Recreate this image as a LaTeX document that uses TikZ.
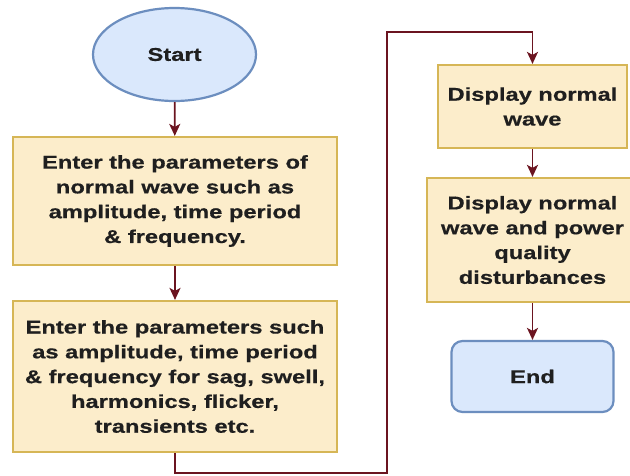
\documentclass[tikz,border=0pt]{standalone}
\usepackage{fontspec}
\setmainfont{Liberation Sans}[FakeStretch=1.28, BoldFeatures={FakeBold=0.6}]
\usetikzlibrary{shapes.geometric,arrows.meta}
\definecolor{boxfill}{HTML}{FCEDCB}
\definecolor{boxline}{HTML}{D6B656}
\definecolor{bluefill}{HTML}{DAE8FC}
\definecolor{blueline}{HTML}{6C8EBF}
\definecolor{arrcol}{HTML}{6B1420}
\begin{document}
\begin{tikzpicture}[x=1pt,y=-1pt,
  every node/.style={font=\fontsize{18.5}{24.8}\selectfont\bfseries, text=black!88, align=center, inner sep=0pt},
  procbox/.style={draw=boxline, fill=boxfill, line width=2.2pt, rectangle},
  termell/.style={draw=blueline, fill=bluefill, line width=2.2pt, ellipse},
  termbox/.style={draw=blueline, fill=bluefill, line width=2.2pt, rectangle, rounded corners=11pt},
  arr/.style={draw=arrcol, line width=1.8pt, -{Stealth[length=12pt,width=11pt,inset=3pt]}}]
\useasboundingbox (0,0) rectangle (630,475);
\clip (0,0) rectangle (630,475);
\fill[white] (0,0) rectangle (630,475);
\node[termell, minimum width=163pt, minimum height=93pt] (start) at (174.5,54.5) {Start};
\node[procbox, minimum width=324pt, minimum height=128pt] (b1) at (175,201)
  {Enter the parameters of\\normal wave such as\\amplitude, time period\\\& frequency.};
\node[procbox, minimum width=324pt, minimum height=151pt] (b2) at (175,376.5)
  {Enter the parameters such\\as amplitude, time period\\\& frequency for sag, swell,\\harmonics, flicker,\\transients etc.};
\node[procbox, minimum width=189pt, minimum height=83pt] (b3) at (532.5,106.5)
  {Display normal\\wave};
\node[procbox, minimum width=211pt, minimum height=124pt] (b4) at (532.5,240)
  {Display normal\\wave and power\\quality\\disturbances};
\node[termbox, minimum width=162pt, minimum height=71pt] (end) at (532.5,376.5) {End};
\coordinate (c1) at (175,473);
\coordinate (c2) at (387,473);
\coordinate (c3) at (387,32);
\coordinate (c4) at (532.5,32);
\draw[arr] (start) -- (b1);
\draw[arr] (b1) -- (b2);
\draw[arr] (b2) -- (c1) -- (c2) -- (c3) -- (c4) -- (b3);
\draw[arr] (b3) -- (b4);
\draw[arr] (b4) -- (end);
\end{tikzpicture}
\end{document}
